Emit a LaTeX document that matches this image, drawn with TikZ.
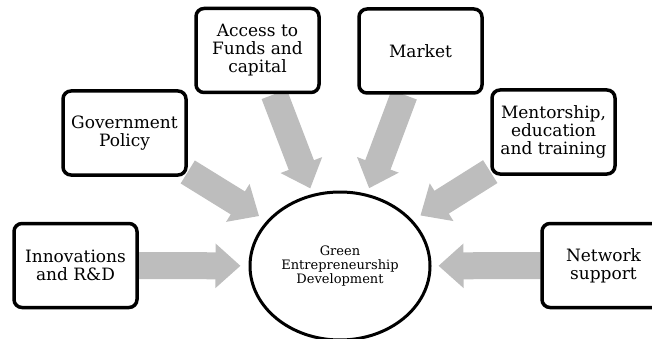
\documentclass[tikz,border=0pt]{standalone}
\usepackage{fontspec}
\setmainfont{DejaVu Serif}
\usetikzlibrary{shapes.geometric,arrows.meta,backgrounds}

\definecolor{flowgray}{RGB}{189,189,189}

\tikzset{
    factor/.style={draw=black, line width=3.5pt, rounded corners=8pt, fill=white,
        minimum width=123pt, minimum height=84pt, align=center,
        font=\fontsize{17}{18}\selectfont},
    flow/.style={draw=flowgray, line width=27pt,
        -{Triangle[width=43pt,length=25pt]}}
}

\begin{document}
\begin{tikzpicture}[x=1pt, y=-1pt]
    % Canvas of the picture
    \useasboundingbox (0,0) rectangle (652,339);

    % Central goal
    \node[draw, ellipse, line width=3pt, fill=white, minimum width=180pt, minimum height=148pt,
          align=center, font=\fontsize{13}{14}\selectfont] (hub) at (340,266)
          {Green\\Entrepreneurship\\Development};

    % Factors around it
    \node[factor] (innov)  at (75.5,265.5) {Innovations\\and R\&D};
    \node[factor] (gov)    at (124.5,133)  {Government\\Policy};
    \node[factor] (funds)  at (257.5,50.5) {Access to\\Funds and\\capital};
    \node[factor] (market) at (420.5,51)   {Market};
    \node[factor] (mentor) at (553.5,132)  {Mentorship,\\education\\and training};
    \node[factor] (net)    at (603.5,265.5) {Network\\support};

    % Arrows towards the goal (behind the boxes)
    \begin{scope}[on background layer]
        \foreach \src/\gap in {innov/8, gov/9, funds/6, market/6, mentor/9, net/7} {
            \draw[flow, shorten >=\gap pt] (\src) -- (hub);
        }
    \end{scope}
\end{tikzpicture}
\end{document}
